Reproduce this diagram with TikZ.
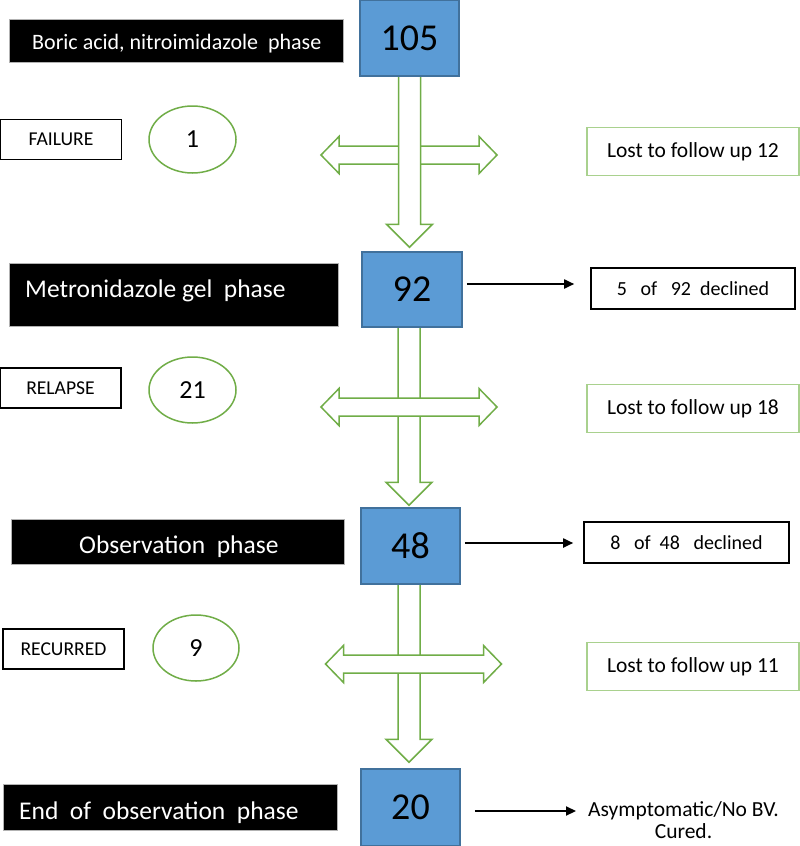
\documentclass[tikz,border=0pt]{standalone}
\usepackage{fontspec}
\setmainfont{Carlito}
\usetikzlibrary{arrows.meta,calc,shapes.geometric}
\definecolor{boxblue}{HTML}{5B9BD5}
\definecolor{boxblueline}{HTML}{41719C}
\definecolor{arrgreen}{HTML}{70AD47}
\definecolor{lightgreen}{HTML}{A9D18E}
\newcommand\fsz[1]{\fontsize{#1}{#1}\selectfont}
\newcommand\hollowdown[2]{%
  \draw[hollow] let \p1=(#1), \p2=(#2) in
    (\x1-11pt,\y1) -- (\x1-11pt,\y2+23pt) -- (\x1-23pt,\y2+23pt) -- (\x1,\y2)
    -- (\x1+23pt,\y2+23pt) -- (\x1+11pt,\y2+23pt) -- (\x1+11pt,\y1);}
\newcommand\hollowcross[1]{%
  \draw[hollow] let \p1=(#1) in
    (\x1-88pt,\y1) -- (\x1-70pt,\y1+18.5pt) -- (\x1-70pt,\y1+9pt) -- (\x1+70pt,\y1+9pt)
    -- (\x1+70pt,\y1+18.5pt) -- (\x1+88pt,\y1) -- (\x1+70pt,\y1-18.5pt) -- (\x1+70pt,\y1-9pt)
    -- (\x1-70pt,\y1-9pt) -- (\x1-70pt,\y1-18.5pt) -- cycle;}
\tikzset{
  phasebox/.style={fill=black, draw=gray!60, line width=0.6pt, inner sep=0pt},
  phasetext/.style={text=white, anchor=base west, inner sep=0pt},
  numbox/.style={fill=boxblue, draw=boxblueline, line width=1.5pt, minimum width=99pt,
    minimum height=76pt, inner sep=0pt, font=\fsz{38pt}},
  outcome/.style={draw=black, line width=1.6pt, fill=white, inner sep=0pt,
    minimum width=121pt, minimum height=40pt, font=\fsz{19.6pt}},
  countell/.style={ellipse, draw=arrgreen, line width=1.5pt, minimum width=87pt,
    minimum height=66pt, inner sep=0pt, font=\fsz{26pt}},
  lostbox/.style={draw=lightgreen, line width=1.8pt, minimum width=212pt,
    minimum height=48pt, inner sep=0pt, font=\fsz{21.5pt}},
  declbox/.style={draw=black, line width=1.6pt, minimum width=204pt,
    minimum height=41pt, inner sep=0pt, font=\fsz{20pt}},
  conn/.style={line width=1.8pt, -{Triangle[length=10pt,width=9pt]}},
  hollow/.style={draw=arrgreen, line width=1.5pt, fill=white, line join=miter},
}
\begin{document}
\begin{tikzpicture}[x=1pt,y=-1pt]
\useasboundingbox[fill=white] (0,0) rectangle (800,846);

% phase labels
\node[phasebox, minimum width=334pt, minimum height=43pt] (p1) at (176,40.5) {};
\node[phasetext, font=\fsz{22pt}] (p1t) at (32,49.3) {Boric acid, nitroimidazole~~phase};
\node[phasebox, minimum width=329pt, minimum height=63pt] (p2) at (173.5,294.5) {};
\node[phasetext, font=\fsz{25.5pt}] (p2t) at (25,297) {Metronidazole gel~~phase};
\node[phasebox, minimum width=333pt, minimum height=45pt] (p3) at (177.5,541.5) {};
\node[phasetext, font=\fsz{25.5pt}] (p3t) at (79,553.3) {Observation~~phase};
\node[phasebox, minimum width=334pt, minimum height=46pt] (p4) at (170,807) {};
\node[phasetext, font=\fsz{25.5pt}] (p4t) at (19,819.3) {End~~of~~observation~~phase};

% number boxes (positions only; drawn after arrows)
\coordinate (c105) at (409.5,38);
\coordinate (c92) at (412,289.5);
\coordinate (c48) at (410.5,546);
\coordinate (c20) at (410.5,807.5);
\path (c105) node[numbox, draw=none, fill=none] (b105) {\phantom{105}};
\path (c92) node[numbox, draw=none, fill=none, minimum width=100pt, minimum height=75pt] (b92) {\phantom{92}};
\path (c48) node[numbox, draw=none, fill=none] (b48) {\phantom{48}};
\path (c20) node[numbox, draw=none, fill=none, minimum height=77pt] (b20) {\phantom{20}};

% hollow arrows
\coordinate (x1) at (409,155);
\coordinate (x2) at (409,407);
\coordinate (x3) at (413.5,664);
\hollowcross{x1}
\hollowdown{b105.south}{$(b92.north)+(0,-4)$}
\hollowdown{$(b92.south)+(-3,0)$}{$(b48.north)+(0,-2)$}
\hollowcross{x2}
\hollowdown{$(b48.south)+(-1.5,0)$}{$(b20.north)+(0,-6)$}
\hollowcross{x3}

% visible number boxes
\node[numbox] (n105) at (c105) {105};
\node[numbox, minimum width=100pt, minimum height=75pt] (n92) at (c92) {92};
\node[numbox] (n48) at (c48) {48};
\node[numbox, minimum height=77pt] (n20) at (c20) {20};

% left outcomes
\node[outcome] (fail) at (61,139.5) {FAILURE};
\node[countell, minimum height=67pt] (e1) at (192.5,139.5) {1};
\node[outcome] (rel) at (60.5,388) {RELAPSE};
\node[countell] (e2) at (192.5,390) {21};
\node[outcome] (rec) at (63.5,649) {RECURRED};
\node[countell, minimum width=86pt] (e3) at (196,648) {9};

% lost to follow up
\node[lostbox] (l1) at (693,151.5) {Lost to follow up 12};
\node[lostbox] (l2) at (693,408.5) {Lost to follow up 18};
\node[lostbox] (l3) at (693,666.5) {Lost to follow up 11};

% declined
\node[declbox] (d1) at (693,288.5) {5~~~of~~~92~~declined};
\node[declbox, minimum width=205pt] (d2) at (686.5,542.5) {8~~~of~~48~~~declined};

% cured
\node[inner sep=0pt, align=center, font=\fontsize{21.5pt}{22pt}\selectfont] (cured) at (683.5,820) {Asymptomatic/No BV.\\Cured.};

% connectors
\draw[conn] ($(n92.east)+(4,-5.5)$) -- ($(n92.east -| d1.west)+(-16,-5.5)$);
\draw[conn] ($(n48.east)+(4,-3)$) -- ($(n48.east -| d2.west)+(-10,-3)$);
\draw[conn] ($(n20.east)+(14,3.5)$) -- ($(n20.east -| cured.west)+(-12,3.5)$);
\end{tikzpicture}
\end{document}
